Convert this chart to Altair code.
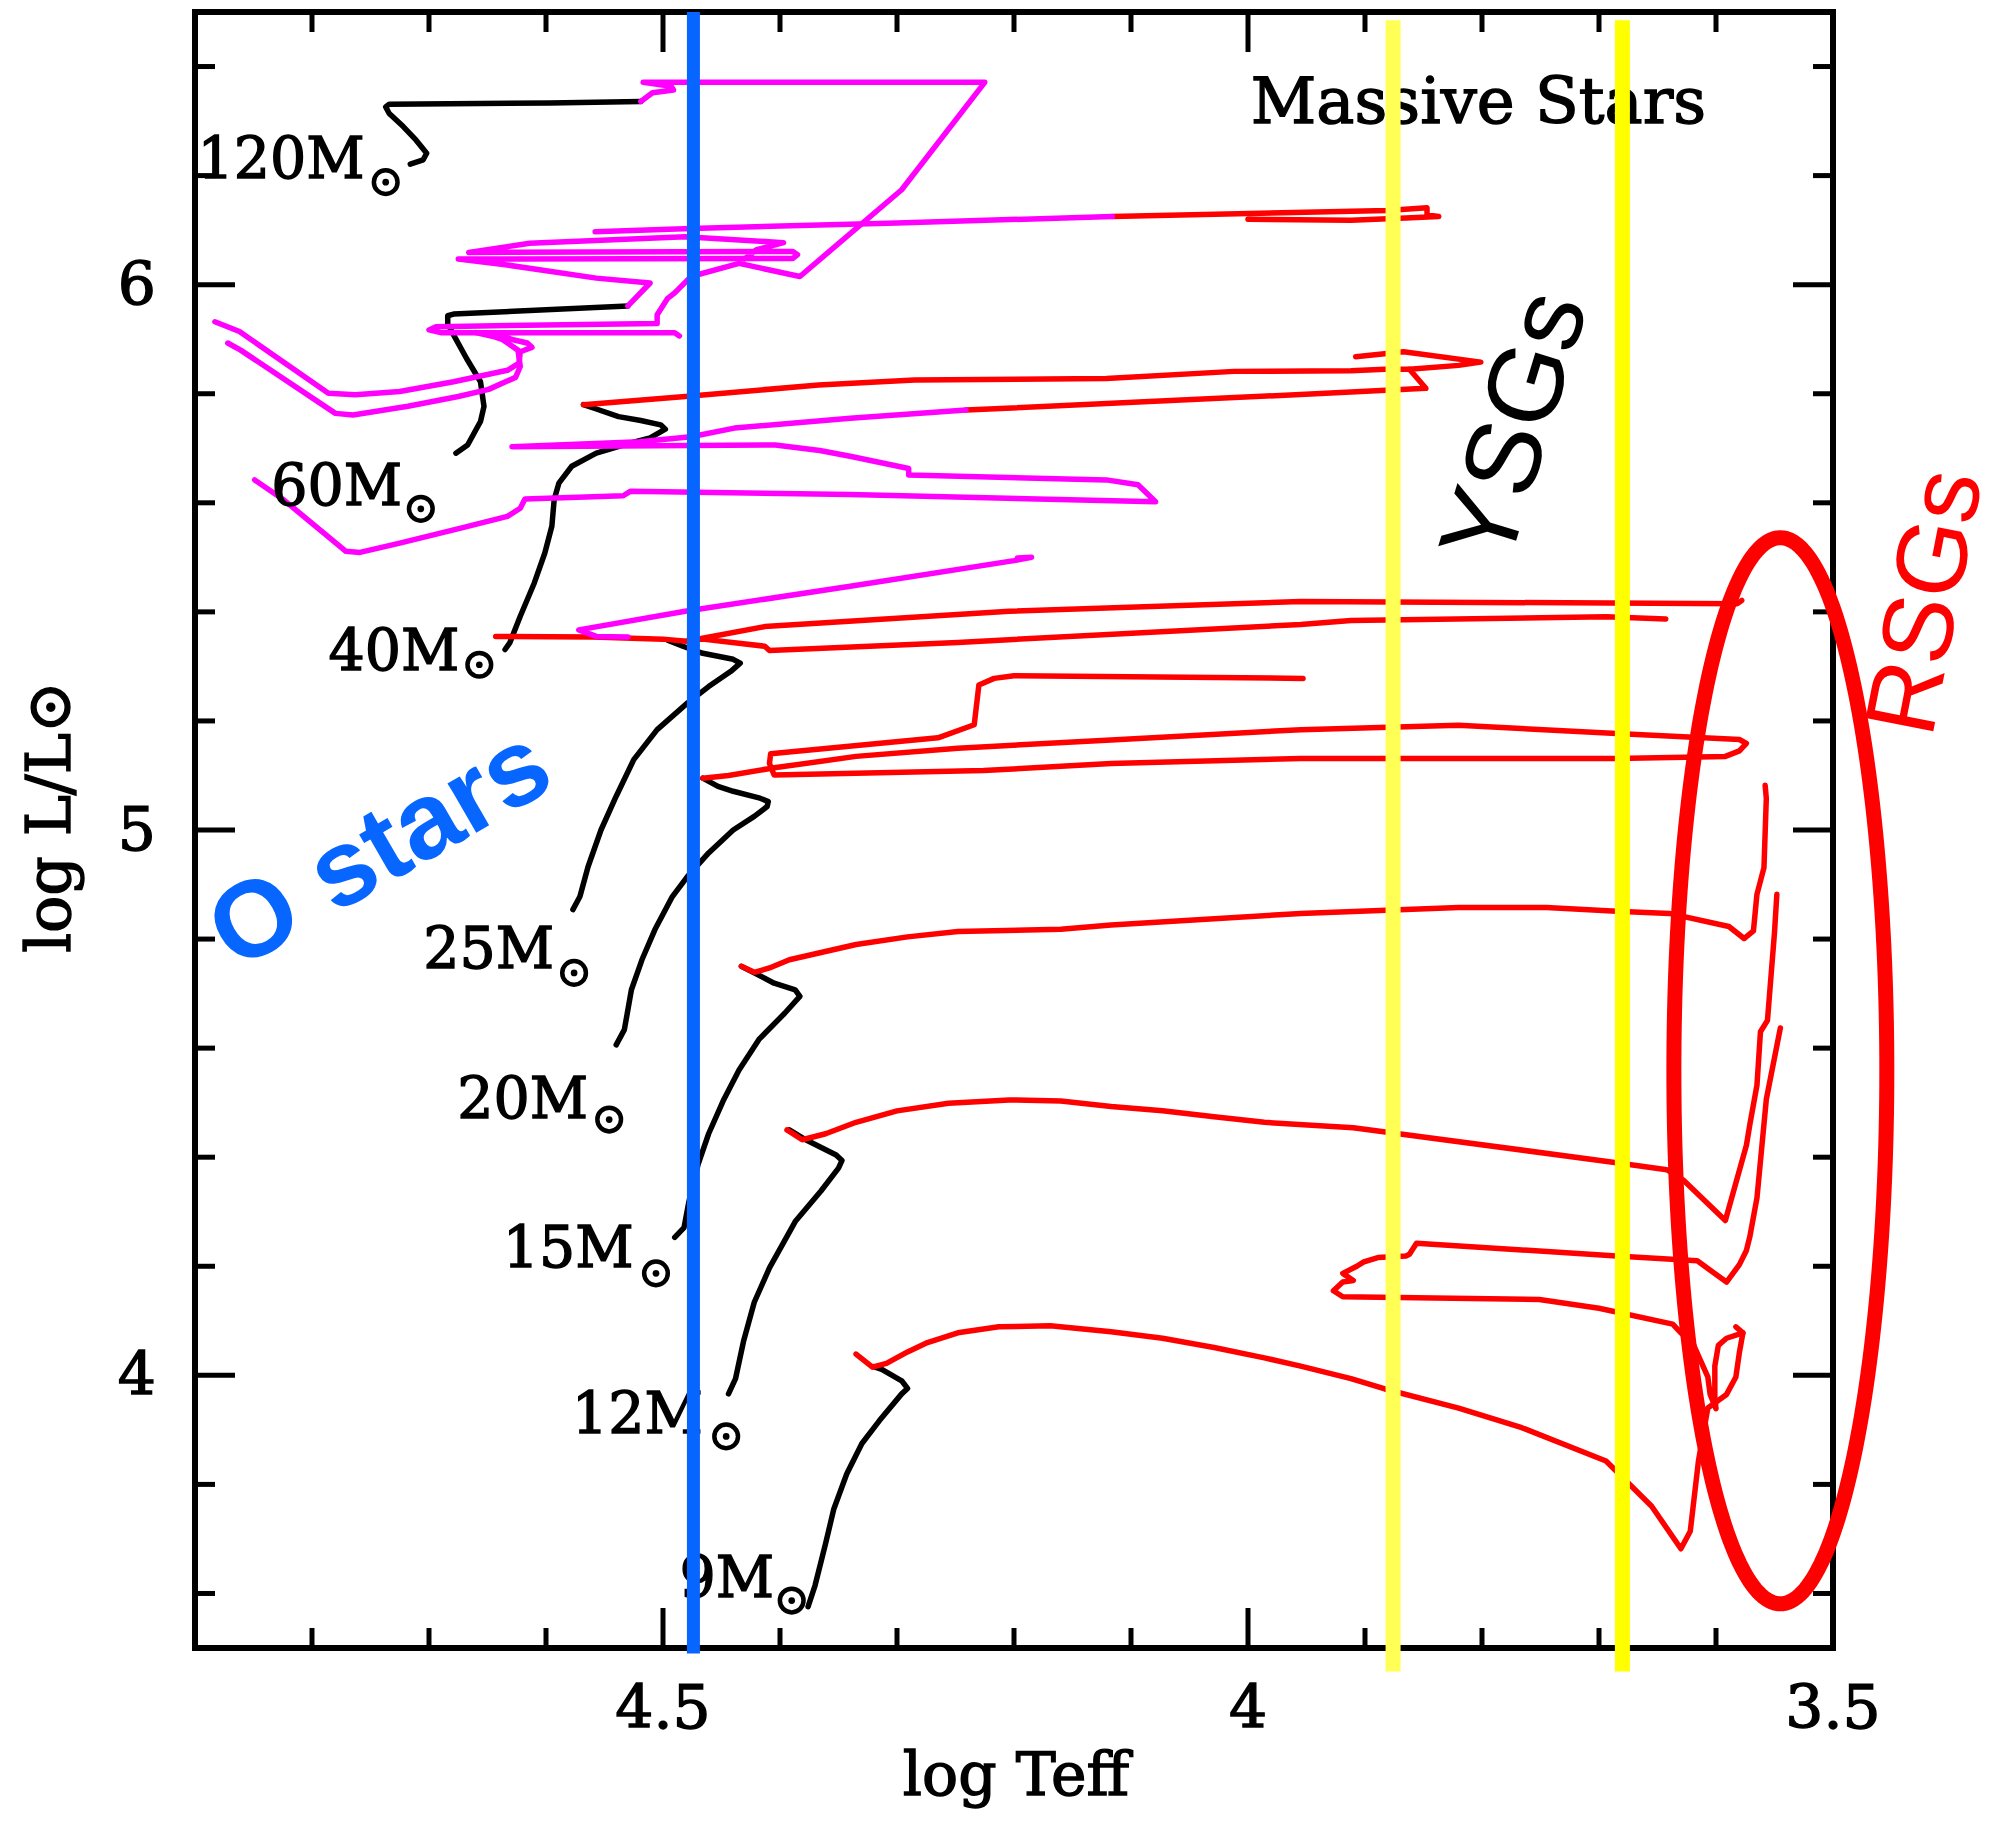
import altair as alt
import pandas as pd
import numpy as np

# ---------------- plot geometry / axes ----------------
W, H = 1638, 1636
X_DOMAIN = [3.5, 4.9]          # log Teff (reversed)
Y_DOMAIN = [3.5, 6.5]          # log L/Lsun
X_LABELS = [4.5, 4.0, 3.5]
X_LABEL_TEXT = ["4.5", "4", "3.5"]
Y_LABELS = [4.0, 5.0, 6.0]
Y_LABEL_TEXT = ["4", "5", "6"]
X_MINOR = [4.8, 4.7, 4.6, 4.4, 4.3, 4.2, 4.1, 3.9, 3.8, 3.7, 3.6]
X_MAJOR = [4.5, 4.0]
Y_MINOR = [6.4, 6.2, 5.8, 5.6, 5.4, 5.2, 4.8, 4.6, 4.4, 4.2, 3.8, 3.6]
Y_MAJOR = [6.0, 5.0, 4.0]
X_TITLE = "log Teff"
Y_TITLE = "log L/L⊙"

# ---------------- main-sequence (black) tracks ----------------
MS_9 = [(4.376, 3.576), (4.370, 3.615), (4.361, 3.692), (4.354, 3.755), (4.343, 3.819), (4.330, 3.875),
        (4.315, 3.917), (4.296, 3.966), (4.291, 3.976), (4.296, 3.990), (4.313, 4.011), (4.320, 4.016)]
MS_12 = [(4.444, 3.966), (4.438, 3.994), (4.431, 4.064), (4.422, 4.134), (4.409, 4.197), (4.387, 4.282),
         (4.365, 4.338), (4.350, 4.380), (4.347, 4.394), (4.352, 4.404), (4.378, 4.432), (4.392, 4.450)]
MS_15 = [(4.490, 4.253), (4.482, 4.271), (4.478, 4.317), (4.470, 4.387), (4.461, 4.443), (4.448, 4.506),
         (4.435, 4.560), (4.418, 4.616), (4.396, 4.664), (4.383, 4.695), (4.387, 4.707), (4.405, 4.719),
         (4.422, 4.738), (4.433, 4.750)]
MS_20 = [(4.540, 4.606), (4.533, 4.634), (4.527, 4.707), (4.518, 4.762), (4.507, 4.817), (4.492, 4.878),
         (4.479, 4.915), (4.461, 4.958), (4.440, 5.000), (4.422, 5.025), (4.411, 5.043), (4.410, 5.052),
         (4.418, 5.059), (4.440, 5.071), (4.453, 5.080), (4.466, 5.095)]
MS_25 = [(4.577, 4.854), (4.571, 4.878), (4.564, 4.933), (4.553, 5.000), (4.540, 5.062), (4.525, 5.129),
         (4.505, 5.184), (4.479, 5.233), (4.461, 5.263), (4.442, 5.291), (4.434, 5.306), (4.440, 5.313),
         (4.466, 5.324), (4.483, 5.337), (4.496, 5.348)]
MS_40 = [(4.635, 5.331), (4.631, 5.343), (4.622, 5.392), (4.610, 5.453), (4.601, 5.508), (4.595, 5.557),
         (4.593, 5.606), (4.589, 5.636), (4.578, 5.667), (4.557, 5.691), (4.534, 5.706), (4.511, 5.719),
         (4.498, 5.735), (4.502, 5.743), (4.519, 5.751), (4.538, 5.758), (4.557, 5.772), (4.568, 5.780)]
MS_60 = [(4.677, 5.691), (4.667, 5.706), (4.656, 5.749), (4.653, 5.777), (4.656, 5.822), (4.668, 5.865),
         (4.679, 5.908), (4.684, 5.928), (4.684, 5.943), (4.679, 5.946), (4.530, 5.961)]
MS_120 = [(4.716, 6.221), (4.705, 6.229), (4.702, 6.241), (4.711, 6.265), (4.722, 6.290), (4.734, 6.314),
          (4.737, 6.326), (4.734, 6.331), (4.597, 6.333), (4.519, 6.336)]

# ---------------- post-MS (red) tracks ----------------
RED_9 = [(4.335, 4.039), (4.321, 4.015), (4.309, 4.022), (4.291, 4.043), (4.274, 4.060), (4.248, 4.078),
         (4.213, 4.089), (4.169, 4.091), (4.117, 4.080), (4.073, 4.068), (4.029, 4.051), (3.986, 4.032),
         (3.955, 4.017), (3.912, 3.994), (3.883, 3.975), (3.820, 3.940), (3.766, 3.904), (3.694, 3.843),
         (3.655, 3.760), (3.630, 3.682), (3.622, 3.714), (3.615, 3.843), (3.607, 3.940), (3.591, 3.965),
         (3.583, 3.997), (3.580, 4.042), (3.577, 4.078), (3.583, 4.089)]
RED_LOOP = [(3.545, 4.637), (3.557, 4.506), (3.565, 4.325), (3.571, 4.255), (3.574, 4.229), (3.580, 4.203),
            (3.591, 4.171), (3.616, 4.210), (3.685, 4.219), (3.856, 4.242), (3.862, 4.222), (3.865, 4.219),
            (3.889, 4.216), (3.901, 4.208), (3.907, 4.200), (3.919, 4.187), (3.910, 4.174), (3.919, 4.171),
            (3.927, 4.155), (3.919, 4.144), (3.751, 4.139), (3.700, 4.123), (3.637, 4.094), (3.630, 4.078),
            (3.619, 4.055), (3.607, 3.997), (3.605, 3.965), (3.600, 3.939), (3.601, 3.959), (3.601, 4.017),
            (3.598, 4.055), (3.591, 4.068), (3.577, 4.078)]
RED_12 = [(4.394, 4.450), (4.381, 4.432), (4.361, 4.443), (4.335, 4.464), (4.300, 4.485), (4.256, 4.499),
          (4.204, 4.505), (4.160, 4.503), (4.117, 4.493), (4.073, 4.485), (4.029, 4.474), (3.986, 4.464),
          (3.910, 4.454), (3.685, 4.390), (3.642, 4.377), (3.628, 4.358), (3.592, 4.284), (3.574, 4.422),
          (3.571, 4.461), (3.565, 4.532), (3.562, 4.630), (3.556, 4.651), (3.550, 4.812), (3.548, 4.882)]
RED_15 = [(4.433, 4.750), (4.422, 4.739), (4.409, 4.747), (4.392, 4.762), (4.335, 4.790), (4.291, 4.804),
          (4.248, 4.814), (4.160, 4.818), (4.117, 4.826), (3.955, 4.847), (3.820, 4.858), (3.745, 4.858),
          (3.685, 4.851), (3.640, 4.847), (3.589, 4.823), (3.576, 4.801), (3.568, 4.815), (3.565, 4.882),
          (3.559, 4.931), (3.557, 5.058), (3.558, 5.082)]
RED_20 = [(4.466, 5.095), (4.444, 5.100), (4.405, 5.114), (4.335, 5.135), (4.248, 5.150), (4.117, 5.165),
          (3.955, 5.184), (3.820, 5.192), (3.685, 5.177), (3.580, 5.166), (3.574, 5.159), (3.580, 5.145),
          (3.592, 5.135), (3.685, 5.131), (3.856, 5.131), (3.955, 5.131), (4.117, 5.122), (4.226, 5.109),
          (4.405, 5.101), (4.409, 5.122), (4.408, 5.140), (4.265, 5.169), (4.234, 5.193), (4.230, 5.266),
          (4.217, 5.278), (4.200, 5.283), (3.953, 5.278)]
RED_25A = [(4.643, 5.355), (4.560, 5.354), (4.500, 5.350), (4.480, 5.346), (4.466, 5.350), (4.413, 5.337),
           (4.409, 5.329), (4.248, 5.344), (3.955, 5.377), (3.912, 5.384), (3.694, 5.391), (3.643, 5.387)]
RED_25B = [(4.480, 5.346), (4.413, 5.373), (4.204, 5.401), (3.955, 5.419), (3.582, 5.415), (3.578, 5.421)]
RED_40 = [(4.568, 5.780), (4.481, 5.795), (4.367, 5.816), (4.285, 5.825), (4.121, 5.828), (4.012, 5.841),
          (3.912, 5.842), (3.883, 5.845), (3.862, 5.845)]
RED_60 = [(4.241, 5.770), (3.912, 5.803), (3.848, 5.810), (3.862, 5.845), (3.820, 5.852), (3.801, 5.858),
          (3.867, 5.877), (3.908, 5.868)]
RED_120 = [(4.116, 6.125), (3.881, 6.136), (3.847, 6.141), (3.847, 6.128), (3.837, 6.125), (3.870, 6.122),
           (3.912, 6.118), (4.000, 6.120)]

# ---------------- very massive (magenta) tracks ----------------
MAG_120 = [(4.519, 6.336), (4.509, 6.352), (4.491, 6.357), (4.493, 6.364), (4.517, 6.371), (4.225, 6.371),
           (4.296, 6.174), (4.383, 6.015), (4.435, 6.039), (4.420, 6.064), (4.397, 6.077), (4.481, 6.088),
           (4.614, 6.076), (4.666, 6.059), (4.389, 6.061), (4.385, 6.055), (4.389, 6.048), (4.675, 6.047),
           (4.633, 6.036), (4.557, 6.012), (4.511, 6.003), (4.530, 5.961)]
MAG_120B = [(4.558, 6.097), (4.476, 6.103), (4.300, 6.113), (4.116, 6.125)]
MAG_WIGGLE = [(4.435, 6.039), (4.476, 6.015), (4.490, 5.985), (4.496, 5.975), (4.505, 5.945), (4.505, 5.929),
              (4.694, 5.923), (4.700, 5.917), (4.690, 5.912), (4.490, 5.912), (4.486, 5.906)]
MAG_60A = [(4.883, 5.932), (4.862, 5.914), (4.786, 5.801), (4.763, 5.798), (4.725, 5.804), (4.679, 5.822),
           (4.633, 5.843), (4.623, 5.856), (4.622, 5.877), (4.612, 5.885), (4.616, 5.893), (4.630, 5.900),
           (4.640, 5.911)]
MAG_60B = [(4.872, 5.893), (4.861, 5.880), (4.780, 5.764), (4.765, 5.761), (4.718, 5.777), (4.675, 5.795),
           (4.649, 5.808), (4.626, 5.830), (4.622, 5.850), (4.624, 5.880), (4.637, 5.899), (4.645, 5.905),
           (4.660, 5.912)]
MAG_60C = [(4.849, 5.642), (4.824, 5.605), (4.771, 5.511), (4.759, 5.509), (4.725, 5.526), (4.672, 5.554),
           (4.633, 5.575), (4.622, 5.590), (4.618, 5.607), (4.534, 5.613), (4.528, 5.621), (4.340, 5.615),
           (4.079, 5.602), (4.094, 5.633), (4.121, 5.642), (4.290, 5.651), (4.290, 5.663), (4.339, 5.685),
           (4.366, 5.696), (4.404, 5.706), (4.629, 5.703), (4.520, 5.712), (4.476, 5.721), (4.439, 5.737),
           (4.340, 5.755), (4.241, 5.770)]
MAG_40 = [(4.530, 5.354), (4.557, 5.355), (4.572, 5.367), (4.481, 5.401), (4.340, 5.447), (4.200, 5.494),
          (4.185, 5.500), (4.197, 5.499)]

# ---------------- annotations ----------------
MASS_TEXT = ["120M", "60M", "40M", "25M", "20M", "15M", "12M", "9M"]
MASS_TEXT_T = [4.755, 4.723, 4.674, 4.593, 4.564, 4.525, 4.466, 4.405]
MASS_TEXT_L = [6.196, 5.596, 5.294, 4.747, 4.472, 4.198, 3.895, 3.594]
SUN_T = [4.737, 4.707, 4.657, 4.576, 4.546, 4.506, 4.446, 4.390]
SUN_L = [6.188, 5.589, 5.303, 4.738, 4.469, 4.187, 3.888, 3.587]

O_STAR_TEFF = 4.474
YSG_TEFF = [3.876, 3.680]
YSG_COLORS = ["#FFFF55", "#FFFF00"]
ELLIPSE_CENTER = (3.545, 4.5585)
ELLIPSE_RADII = (0.091, 0.9775)

BLUE = "#0766FF"
SERIF = "DejaVu Serif"
SANS = "Liberation Sans"

# ---------------- scales ----------------
xscale = alt.Scale(domain=X_DOMAIN, reverse=True, nice=False, zero=False)
yscale = alt.Scale(domain=Y_DOMAIN, nice=False, zero=False)


def X(f):
    return alt.X(f, type="quantitative", scale=xscale, axis=None)


def Y(f):
    return alt.Y(f, type="quantitative", scale=yscale, axis=None)


def tracks_df(tracks):
    rows = []
    for name, pts in tracks:
        for i, (t, l) in enumerate(pts):
            rows.append({"track": name, "i": i, "logT": t, "logL": l})
    return pd.DataFrame(rows)


black_df = tracks_df([("9", MS_9), ("12", MS_12), ("15", MS_15), ("20", MS_20), ("25", MS_25),
                      ("40", MS_40), ("60", MS_60), ("120", MS_120)])
red_df = tracks_df([("9", RED_9), ("loop", RED_LOOP), ("12", RED_12), ("15", RED_15), ("20", RED_20),
                    ("25a", RED_25A), ("25b", RED_25B), ("40", RED_40), ("60", RED_60), ("120", RED_120)])
mag_df = tracks_df([("120", MAG_120), ("120b", MAG_120B), ("w", MAG_WIGGLE), ("60a", MAG_60A),
                    ("60b", MAG_60B), ("60c", MAG_60C), ("40", MAG_40)])


def track_layer(df, color):
    return alt.Chart(df).mark_line(color=color, strokeWidth=5.5, strokeJoin="round", strokeCap="round").encode(
        x=X("logT"), y=Y("logL"), detail="track:N", order="i:Q")


layers = [track_layer(black_df, "black"), track_layer(red_df, "#FF0000"), track_layer(mag_df, "#FF00FF")]

# inward ticks on all four sides
xt_minor = pd.DataFrame({"v": X_MINOR})
xt_major = pd.DataFrame({"v": X_MAJOR})
yt_minor = pd.DataFrame({"v": Y_MINOR})
yt_major = pd.DataFrame({"v": Y_MAJOR})
for dfv, ln in [(xt_minor, 20), (xt_major, 40)]:
    layers.append(alt.Chart(dfv).mark_rule(color="black", strokeWidth=5).encode(
        x=X("v"), y=alt.value(H), y2=alt.value(H - ln)))
    layers.append(alt.Chart(dfv).mark_rule(color="black", strokeWidth=5).encode(
        x=X("v"), y=alt.value(0), y2=alt.value(ln)))
for dfv, ln in [(yt_minor, 20), (yt_major, 40)]:
    layers.append(alt.Chart(dfv).mark_rule(color="black", strokeWidth=5).encode(
        y=Y("v"), x=alt.value(0), x2=alt.value(ln)))
    layers.append(alt.Chart(dfv).mark_rule(color="black", strokeWidth=5).encode(
        y=Y("v"), x=alt.value(W), x2=alt.value(W - ln)))

# frame (box)
frame_df = pd.DataFrame({"a": [0]})
for enc in [dict(x=alt.value(0), x2=alt.value(W), y=alt.value(0)),
            dict(x=alt.value(0), x2=alt.value(W), y=alt.value(H)),
            dict(y=alt.value(0), y2=alt.value(H), x=alt.value(0)),
            dict(y=alt.value(0), y2=alt.value(H), x=alt.value(W))]:
    layers.append(alt.Chart(frame_df).mark_rule(color="black", strokeWidth=6, strokeCap="square").encode(**enc))

# tick labels and axis titles (heavy serif, like the original plotting font)
TXT = dict(font=SERIF, color="black", stroke="black", strokeWidth=1.4)
xl_df = pd.DataFrame({"v": X_LABELS, "t": X_LABEL_TEXT})
yl_df = pd.DataFrame({"v": Y_LABELS, "t": Y_LABEL_TEXT})
layers.append(alt.Chart(xl_df).mark_text(fontSize=60, align="center", baseline="alphabetic", **TXT).encode(
    x=X("v"), y=alt.value(H + 80), text="t:N"))
layers.append(alt.Chart(yl_df).mark_text(fontSize=60, align="right", baseline="middle", dy=2, **TXT).encode(
    y=Y("v"), x=alt.value(-39), text="t:N"))
layers.append(alt.Chart(frame_df).mark_text(fontSize=60, align="center", baseline="alphabetic", **TXT).encode(
    x=alt.value(W / 2 + 2), y=alt.value(H + 147), text=alt.value(X_TITLE)))
layers.append(alt.Chart(frame_df).mark_text(fontSize=62, align="center", baseline="alphabetic", angle=270,
                                            **TXT).encode(
    x=alt.value(-125), y=alt.value(805), text=alt.value(Y_TITLE)))

# mass labels
mass_df = pd.DataFrame({"logT": MASS_TEXT_T, "logL": MASS_TEXT_L, "txt": MASS_TEXT})
sun_df = pd.DataFrame({"logT": SUN_T, "logL": SUN_L})
layers.append(alt.Chart(mass_df).mark_text(fontSize=57, align="right", baseline="alphabetic", **TXT).encode(
    x=X("logT"), y=Y("logL"), text="txt:N"))
layers.append(alt.Chart(sun_df).mark_point(shape="circle", filled=False, size=560, strokeWidth=4.5,
                                           color="black", opacity=1).encode(x=X("logT"), y=Y("logL")))
layers.append(alt.Chart(sun_df).mark_point(shape="circle", filled=True, size=45, color="black",
                                           opacity=1).encode(x=X("logT"), y=Y("logL")))


# region texts
def text_layer(t, l, s, **kw):
    d = pd.DataFrame({"logT": [t], "logL": [l], "txt": [s]})
    return alt.Chart(d).mark_text(**kw).encode(x=X("logT"), y=Y("logL"), text="txt:N")


layers.append(text_layer(3.803, 6.297, "Massive Stars", fontSize=64, align="center",
                         baseline="alphabetic", **TXT))
layers.append(text_layer(4.741, 4.962, "O stars", font=SANS, fontSize=108, fontWeight="bold",
                         align="center", baseline="middle", angle=330, color=BLUE))
layers.append(text_layer(3.770, 5.737, "YSGs", font=SANS, fontSize=106, align="center",
                         baseline="middle", angle=287, color="black"))
layers.append(text_layer(3.419, 5.417, "RSGs", font=SANS, fontSize=100, align="center",
                         baseline="middle", angle=281, color="#FF0000"))

# vertical boundaries
blue_df = pd.DataFrame({"x": [O_STAR_TEFF], "y": [3.49], "y2": [6.5]})
layers.append(alt.Chart(blue_df).mark_rule(color=BLUE, strokeWidth=13).encode(
    x=X("x"), y=Y("y"), y2="y2"))
for t, c in zip(YSG_TEFF, YSG_COLORS):
    ydf = pd.DataFrame({"x": [t], "y": [3.457], "y2": [6.485]})
    layers.append(alt.Chart(ydf).mark_rule(color=c, strokeWidth=15).encode(
        x=X("x"), y=Y("y"), y2="y2"))

# RSG ellipse
th = np.linspace(0, 2 * np.pi, 241)
ell_df = pd.DataFrame({"i": np.arange(th.size),
                       "logT": ELLIPSE_CENTER[0] + ELLIPSE_RADII[0] * np.cos(th),
                       "logL": ELLIPSE_CENTER[1] + ELLIPSE_RADII[1] * np.sin(th)})
layers.append(alt.Chart(ell_df).mark_line(color="#FF0000", strokeWidth=15, strokeJoin="round").encode(
    x=X("logT"), y=Y("logL"), order="i:Q"))

chart = alt.layer(*layers).properties(
    width=W, height=H,
    autosize=alt.AutoSizeParams(type="none"),
    padding={"left": 195, "top": 12, "right": 170, "bottom": 173},
).configure_view(stroke=None).configure_axis(grid=False)

chart.save("out.html", embed_options={"renderer": "svg", "actions": False})
